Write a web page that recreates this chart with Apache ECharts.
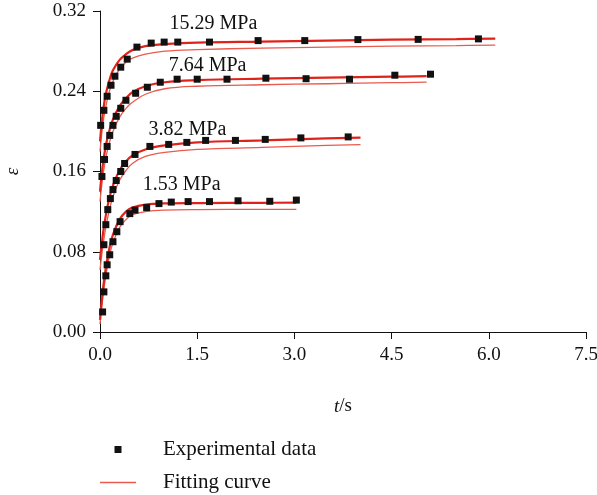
<!DOCTYPE html>
<html>
<head>
<meta charset="utf-8">
<script src="https://cdn.jsdelivr.net/npm/echarts@6/dist/echarts.min.js"></script>
<style>
    html, body { margin: 0; padding: 0; background: #fff; }
    #chart { width: 597px; height: 495px; }
</style>
</head>
<body>
<div id="chart"></div>
<script>
// tick labels
const xTicks = [0, 1.5, 3.0, 4.5, 6.0, 7.5]
const yTicks = [0, 0.08, 0.16, 0.24, 0.32]

// pressure groups (label, label position t, eps)
const groups = ['15.29 MPa', '7.64 MPa', '3.82 MPa', '1.53 MPa']
const labelT = [1.75, 1.66, 1.35, 1.26]
const labelE = [0.307, 0.265, 0.202, 0.147]

// experimental data, t (s) and strain
const exp1529T = [0.01, 0.06, 0.11, 0.17, 0.23, 0.32, 0.42, 0.57, 0.79, 0.99, 1.2, 1.69, 2.44, 3.16, 3.98, 4.91, 5.84]
const exp1529E = [0.206, 0.221, 0.235, 0.246, 0.255, 0.264, 0.272, 0.284, 0.288, 0.289, 0.289, 0.289, 0.2905, 0.2905, 0.2915, 0.2917, 0.2922]
const exp764T = [0.03, 0.07, 0.11, 0.15, 0.2, 0.25, 0.32, 0.4, 0.55, 0.73, 0.93, 1.19, 1.5, 1.96, 2.56, 3.18, 3.85, 4.55, 5.1]
const exp764E = [0.155, 0.172, 0.185, 0.196, 0.206, 0.215, 0.223, 0.231, 0.238, 0.244, 0.249, 0.252, 0.252, 0.252, 0.253, 0.2525, 0.252, 0.256, 0.257]
const exp382T = [0.06, 0.09, 0.12, 0.16, 0.2, 0.25, 0.32, 0.38, 0.54, 0.77, 1.06, 1.34, 1.63, 2.09, 2.55, 3.1, 3.83]
const exp382E = [0.087, 0.107, 0.122, 0.133, 0.142, 0.151, 0.16, 0.168, 0.177, 0.185, 0.187, 0.189, 0.191, 0.191, 0.192, 0.1935, 0.1945]
const exp153T = [0.04, 0.06, 0.09, 0.11, 0.15, 0.2, 0.26, 0.31, 0.46, 0.54, 0.72, 0.91, 1.1, 1.36, 1.69, 2.13, 2.62, 3.03]
const exp153E = [0.02, 0.04, 0.056, 0.067, 0.077, 0.09, 0.1, 0.11, 0.118, 0.1215, 0.124, 0.128, 0.1295, 0.13, 0.13, 0.1308, 0.1303, 0.1315]

// fitting curves (A = close fit, B = second fit slightly below)
const fitT1529 = [0, 0.05, 0.1, 0.15, 0.2, 0.3, 0.4, 0.5, 0.7, 1.0, 1.5, 2.5, 3.5, 4.5, 5.5, 6.1]
const fitA1529 = [0.19, 0.222, 0.24, 0.252, 0.261, 0.271, 0.277, 0.281, 0.285, 0.287, 0.2885, 0.2895, 0.2905, 0.2915, 0.292, 0.2925]
const fitB1529 = [0.18, 0.21, 0.228, 0.241, 0.25, 0.262, 0.269, 0.273, 0.277, 0.28, 0.2815, 0.283, 0.284, 0.285, 0.2855, 0.286]
const fitT764 = [0, 0.05, 0.1, 0.15, 0.2, 0.3, 0.4, 0.5, 0.7, 1.0, 1.5, 2.5, 3.5, 4.5, 5.04]
const fitA764 = [0.14, 0.17, 0.189, 0.202, 0.212, 0.225, 0.233, 0.239, 0.245, 0.249, 0.251, 0.2525, 0.2535, 0.2545, 0.255]
const fitB764 = [0.13, 0.158, 0.177, 0.19, 0.2, 0.214, 0.223, 0.229, 0.237, 0.2425, 0.245, 0.2465, 0.2475, 0.2485, 0.249]
const fitT382 = [0, 0.05, 0.1, 0.15, 0.2, 0.3, 0.4, 0.5, 0.7, 1.0, 1.5, 2.5, 3.5, 4.02]
const fitA382 = [0.072, 0.1, 0.12, 0.135, 0.146, 0.161, 0.17, 0.176, 0.182, 0.186, 0.189, 0.191, 0.193, 0.1937]
const fitB382 = [0.062, 0.088, 0.108, 0.123, 0.135, 0.151, 0.161, 0.168, 0.175, 0.179, 0.182, 0.184, 0.186, 0.1868]
const fitT153 = [0, 0.05, 0.1, 0.15, 0.2, 0.3, 0.4, 0.5, 0.7, 1.0, 1.5, 2.5, 3.03]
const fitA153 = [0.012, 0.045, 0.068, 0.085, 0.097, 0.112, 0.12, 0.124, 0.127, 0.1282, 0.1285, 0.1288, 0.129]
const fitB153 = [0.008, 0.038, 0.06, 0.077, 0.089, 0.104, 0.112, 0.117, 0.12, 0.1215, 0.122, 0.1222, 0.1222]

const zip = (xs, ys) => xs.map((x, i) => [x, ys[i]])
const FONT = '"Liberation Serif", "DejaVu Serif", serif'
const FS = 19

const expSets = [[exp1529T, exp1529E], [exp764T, exp764E], [exp382T, exp382E], [exp153T, exp153E]]
const fitSets = [
    [fitT1529, fitA1529, fitB1529],
    [fitT764, fitA764, fitB764],
    [fitT382, fitA382, fitB382],
    [fitT153, fitA153, fitB153]
]

const series = []
// thin fits first so the legend takes its style
fitSets.forEach(f => {
    series.push({
        name: 'Fitting curve', type: 'line', smooth: 0.4, symbol: 'none',
        data: zip(f[0], f[2]),
        lineStyle: { color: '#ea5a4d', width: 1.3 },
        itemStyle: { color: '#ea5a4d' },
        z: 2
    })
})
fitSets.forEach(f => {
    series.push({
        name: 'Fitting curve', type: 'line', smooth: 0.4, symbol: 'none',
        data: zip(f[0], f[1]),
        lineStyle: { color: '#e0231a', width: 2.2 },
        itemStyle: { color: '#e0231a' },
        z: 3
    })
})
expSets.forEach(e => {
    series.push({
        name: 'Experimental data', type: 'scatter', symbol: 'rect', symbolSize: 7,
        data: zip(e[0], e[1]),
        itemStyle: { color: '#111', opacity: 1 },
        z: 4
    })
})
// pressure labels
series.push({
    name: 'labels', type: 'scatter', symbolSize: 0, silent: true,
    data: groups.map((g, i) => [labelT[i], labelE[i], g]),
    itemStyle: { opacity: 1 },
    label: {
        show: true, position: 'inside',
        formatter: p => p.data[2],
        color: '#111', opacity: 1, fontFamily: FONT, fontSize: 20
    },
    z: 5
})

const chart = echarts.init(document.getElementById('chart'))
chart.setOption({
    animation: false,
    backgroundColor: '#fff',
    grid: { left: 100, right: 11, top: 11, bottom: 163, outerBoundsMode: 'none', containLabel: false },
    legend: {
        data: [
            { name: 'Experimental data', icon: 'path://M0,0h1v1h-1z', itemStyle: { color: '#111', opacity: 1 } },
            { name: 'Fitting curve', icon: 'path://M0,0h24v1h-24z', itemStyle: { color: '#ea5a4d' } }
        ],
        orient: 'vertical',
        left: 100,
        top: 439,
        padding: 0,
        itemWidth: 36,
        itemHeight: 7,
        itemGap: 12,
        selectedMode: false,
        textStyle: { fontFamily: FONT, fontSize: 21, color: '#111', padding: [0, 0, 0, 22] }
    },
    xAxis: {
        type: 'value', min: 0, max: 7.5, interval: 1.5,
        name: '{i|t}/s', nameLocation: 'middle', nameGap: 65,
        nameMoveOverlap: false,
        nameTextStyle: {
            fontFamily: FONT, fontSize: FS, color: '#111',
            rich: { i: { fontStyle: 'italic', fontFamily: FONT, fontSize: FS, color: '#111' } }
        },
        axisLine: { onZero: false, lineStyle: { color: '#111', width: 1 } },
        axisTick: { length: 7, lineStyle: { color: '#111' } },
        splitLine: { show: false },
        axisLabel: {
            margin: 14, fontFamily: FONT, fontSize: FS, color: '#111',
            formatter: v => xTicks.indexOf(v) >= 0 ? v.toFixed(1) : ''
        }
    },
    yAxis: {
        type: 'value', min: 0, max: 0.32, interval: 0.08,
        name: 'ε', nameLocation: 'middle', nameGap: 78,
        nameMoveOverlap: false,
        nameTextStyle: { fontFamily: FONT, fontSize: FS, fontStyle: 'italic', color: '#111' },
        axisLine: { show: true, onZero: false, lineStyle: { color: '#111', width: 1 } },
        axisTick: { show: true, length: 7, lineStyle: { color: '#111' } },
        splitLine: { show: false },
        axisLabel: {
            margin: 14, fontFamily: FONT, fontSize: FS, color: '#111',
            formatter: v => yTicks.some(t => Math.abs(t - v) < 1e-9) ? v.toFixed(2) : ''
        }
    },
    series
})
</script>
</body>
</html>
